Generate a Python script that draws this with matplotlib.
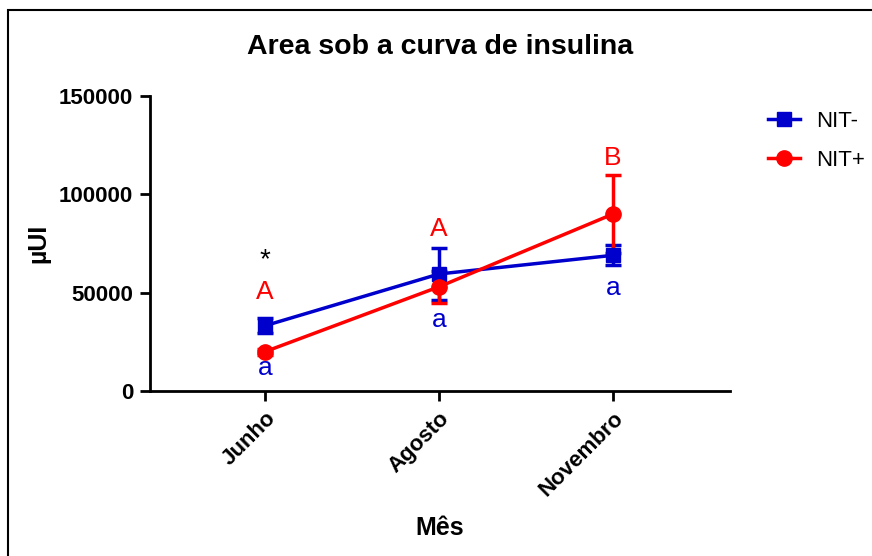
import matplotlib
matplotlib.use("Agg")
import matplotlib.pyplot as plt
from matplotlib.patches import Rectangle

plt.rcParams['font.family'] = ['Liberation Sans', 'DejaVu Sans']

# area under the insulin curve, mean +/- SEM per month
meses = ["Junho", "Agosto", "Novembro"]
nit_neg = [33200, 59500, 69000]
nit_neg_err = [3800, 13000, 5000]
nit_pos = [20000, 53000, 90000]
nit_pos_err = [1500, 8000, 20000]

# significance letters: (x index, y position, text, colour)
letras = [
    (0, 66500, "*", "black"),
    (0, 50400, "A", "red"),
    (0, 11700, "a", "#0000CC"),
    (1, 82400, "A", "red"),
    (1, 36100, "a", "#0000CC"),
    (2, 118500, "B", "red"),
    (2, 52400, "a", "#0000CC"),
]

W, H = 872, 556
fig = plt.figure(figsize=(W / 100, H / 100), dpi=100)
ax = fig.add_axes([150 / W, 1 - 391 / H, (730 - 150) / W, (391 - 96) / H])

x = range(len(meses))
blue = "#0000CC"
red = "#FF0000"

ax.errorbar(x, nit_neg, yerr=nit_neg_err, color=blue, marker="s", markersize=10,
            linewidth=2.5, elinewidth=2.5, capsize=6, capthick=2.5, label="NIT-")
ax.errorbar(x, nit_pos, yerr=nit_pos_err, color=red, marker="o", markersize=11,
            linewidth=2.5, elinewidth=2.5, capsize=6, capthick=2.5, label="NIT+")

for i, y, t, c in letras:
    ax.text(i, y, t, color=c, fontsize=19 if t != "*" else 20,
            ha="center", va="center")

ax.set_xlim(-0.661, 2.672)
ax.set_ylim(0, 150000)
ax.set_yticks([0, 50000, 100000, 150000])
ax.set_xticks(list(x))
ax.set_xticklabels(meses, rotation=45, ha="right", rotation_mode="anchor",
                   fontweight="bold", fontsize=16)
for lab in ax.get_yticklabels():
    lab.set_fontweight("bold")
    lab.set_fontsize(16)

for s in ["top", "right"]:
    ax.spines[s].set_visible(False)
for s in ["left", "bottom"]:
    ax.spines[s].set_linewidth(2)
ax.tick_params(width=2, length=7, pad=5)

ax.set_title("Area sob a curva de insulina", fontsize=20.5, fontweight="bold", pad=30)
ax.set_ylabel("\u00b5UI", fontsize=18, fontweight="bold", labelpad=6)
ax.set_xlabel("Mês", fontsize=18, fontweight="bold", labelpad=11)

handles, labels = ax.get_legend_handles_labels()
handles = [h[0] for h in handles]
fig.legend(handles, labels, loc="upper left", bbox_to_anchor=(748 / W, 1 - 91 / H),
           frameon=False, fontsize=16, handlelength=1.45, handletextpad=0.7,
           labelspacing=0.8)

# thin frame around the figure
fig.add_artist(Rectangle((8 / W, -0.5), 2, 1.5 - 10 / H, transform=fig.transFigure,
                         fill=False, linewidth=1.5, edgecolor="black"))

fig.savefig("out.png", dpi=100)
